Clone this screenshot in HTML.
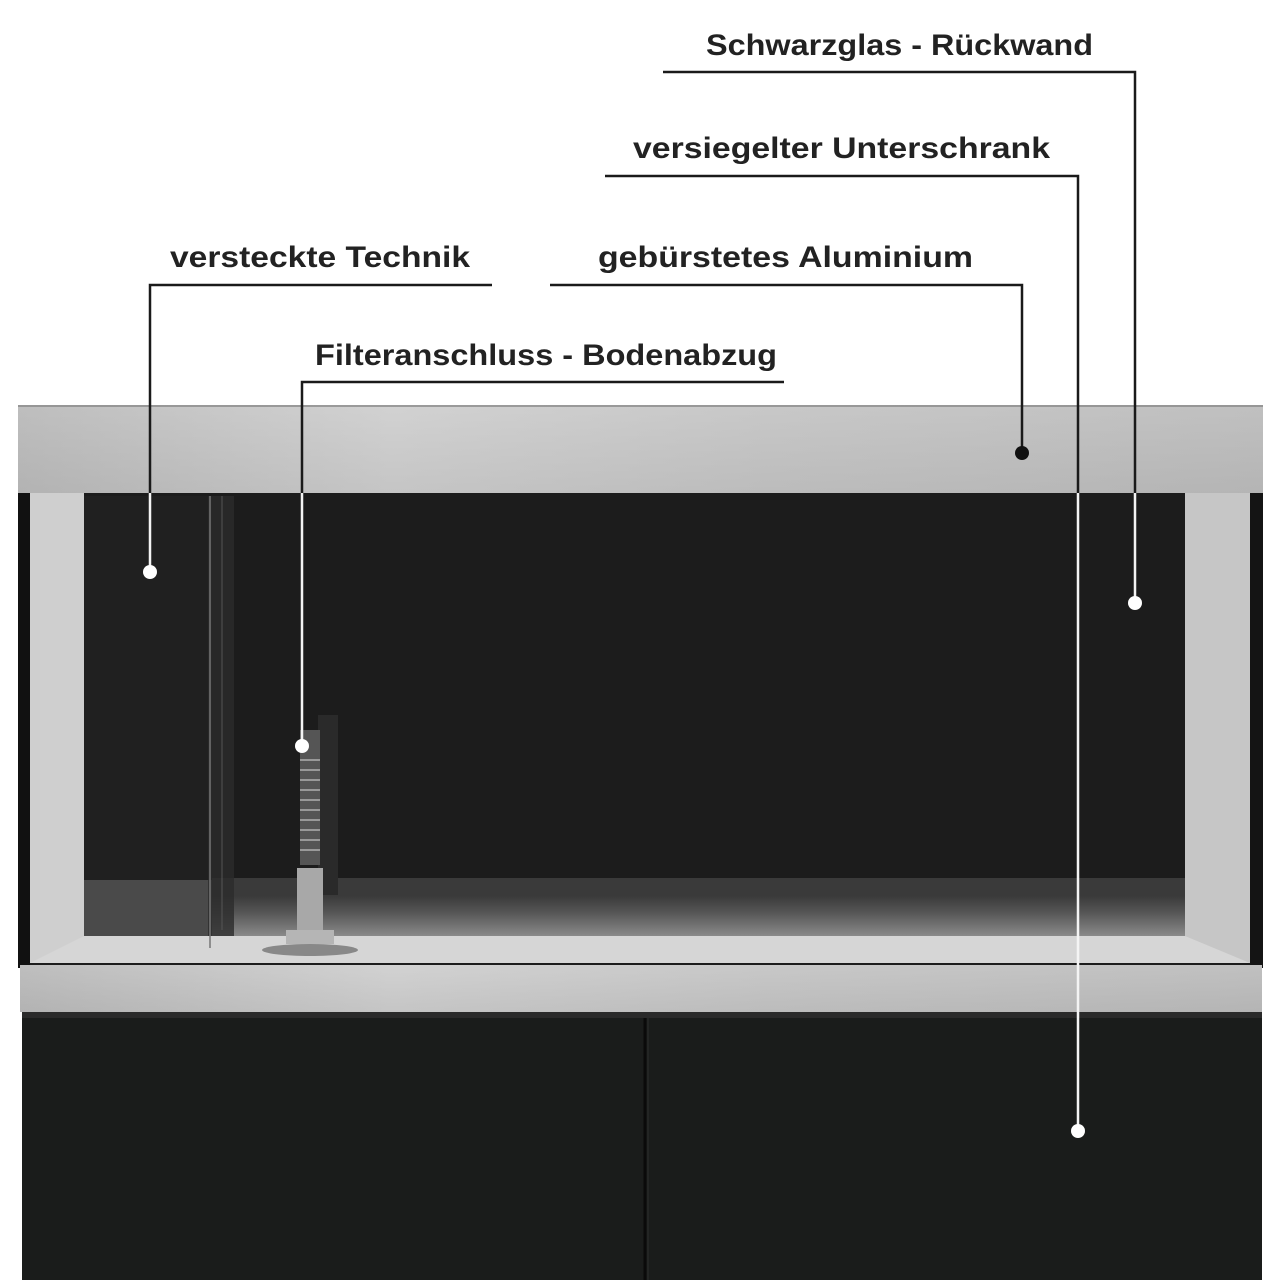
<!DOCTYPE html>
<html><head><meta charset="utf-8"><style>
html,body{margin:0;padding:0;background:#fff;}
body{width:1280px;height:1280px;position:relative;overflow:hidden;}
</style></head><body>
<svg width="1280" height="1280" viewBox="0 0 1280 1280" xmlns="http://www.w3.org/2000/svg" style="position:absolute;left:0;top:0">
<defs>
<linearGradient id="frame" x1="0" y1="0" x2="1" y2="0">
<stop offset="0" stop-color="#c2c2c2"/><stop offset="0.3" stop-color="#d6d6d6"/><stop offset="0.6" stop-color="#cccccc"/><stop offset="1" stop-color="#c4c4c4"/>
</linearGradient>
<linearGradient id="frameV" x1="0" y1="0" x2="0" y2="1">
<stop offset="0" stop-color="#000" stop-opacity="0.02"/><stop offset="1" stop-color="#000" stop-opacity="0.08"/>
</linearGradient>
<linearGradient id="floor" x1="0" y1="0" x2="0" y2="1">
<stop offset="0" stop-color="#3a3a3a"/><stop offset="0.4" stop-color="#555"/><stop offset="1" stop-color="#8a8a8a"/>
</linearGradient>
</defs>
<rect x="18" y="493" width="1245" height="475" fill="#1c1c1c"/>
<rect x="18" y="493" width="12" height="475" fill="#111"/>
<rect x="30" y="493" width="54" height="470" fill="#cfcfcf"/>
<rect x="1185" y="493" width="65" height="470" fill="#c6c6c6"/>
<rect x="1250" y="493" width="13" height="475" fill="#141414"/>
<rect x="84" y="878" width="1101" height="18" fill="#3a3a3a"/>
<rect x="84" y="896" width="1101" height="40" fill="url(#floor)"/>
<polygon points="84,936 1185,936 1250,963 30,963" fill="#d6d6d6"/>
<rect x="84" y="496" width="128" height="440" fill="#202020"/>
<rect x="84" y="880" width="128" height="56" fill="#4a4a4a"/>
<rect x="208" y="496" width="26" height="440" fill="#2c2c2c" opacity="0.8"/>
<line x1="210" y1="496" x2="210" y2="948" stroke="#777" stroke-width="1.5"/>
<line x1="222" y1="496" x2="222" y2="930" stroke="#555" stroke-width="1"/>
<rect x="318" y="715" width="20" height="180" fill="#2a2a2a"/>
<rect x="300" y="730" width="20" height="135" fill="#555"/>
<g stroke="#999" stroke-width="2">
<line x1="300" y1="760" x2="320" y2="760"/><line x1="300" y1="770" x2="320" y2="770"/><line x1="300" y1="780" x2="320" y2="780"/><line x1="300" y1="790" x2="320" y2="790"/><line x1="300" y1="800" x2="320" y2="800"/><line x1="300" y1="810" x2="320" y2="810"/><line x1="300" y1="820" x2="320" y2="820"/><line x1="300" y1="830" x2="320" y2="830"/><line x1="300" y1="840" x2="320" y2="840"/><line x1="300" y1="850" x2="320" y2="850"/>
</g>
<rect x="297" y="868" width="26" height="65" fill="#a8a8a8"/>
<rect x="286" y="930" width="48" height="14" fill="#b5b5b5"/>
<ellipse cx="310" cy="950" rx="48" ry="6" fill="#888"/>
<rect x="18" y="405" width="1245" height="88" fill="url(#frame)"/>
<rect x="18" y="405" width="1245" height="88" fill="url(#frameV)"/>
<line x1="18" y1="406" x2="1263" y2="406" stroke="#888" stroke-width="1.5"/>
<rect x="20" y="965" width="1242" height="47" fill="url(#frame)"/>
<rect x="20" y="965" width="1242" height="47" fill="url(#frameV)"/>
<rect x="22" y="1012" width="1240" height="268" fill="#1a1c1b"/>
<rect x="22" y="1012" width="1240" height="6" fill="#2a2a2a"/>
<line x1="645" y1="1018" x2="645" y2="1280" stroke="#0a0a0a" stroke-width="3"/>
<line x1="648" y1="1018" x2="648" y2="1280" stroke="#2c2e2d" stroke-width="1"/>
<g fill="none" stroke="#1a1a1a" stroke-width="2.5">
<polyline points="663,72 1135,72 1135,493"/>
<polyline points="605,176 1078,176 1078,493"/>
<polyline points="550,285 1022,285 1022,453"/>
<polyline points="492,285 150,285 150,493"/>
<polyline points="784,382 302,382 302,493"/>
</g>
<g fill="none" stroke="#f4f4f4" stroke-width="2.5">
<line x1="1135" y1="493" x2="1135" y2="603"/>
<line x1="1078" y1="493" x2="1078" y2="1131"/>
<line x1="150" y1="493" x2="150" y2="572"/>
<line x1="302" y1="493" x2="302" y2="746"/>
</g>
<circle cx="1135" cy="603" r="7" fill="#fff"/>
<circle cx="1078" cy="1131" r="7" fill="#fff"/>
<circle cx="1022" cy="453" r="7" fill="#111"/>
<circle cx="150" cy="572" r="7" fill="#fff"/>
<circle cx="302" cy="746" r="7" fill="#fff"/>
<g font-family="Liberation Sans, sans-serif" font-weight="bold" font-size="30" fill="#222">
<text x="706" y="55" textLength="387" lengthAdjust="spacingAndGlyphs">Schwarzglas - Rückwand</text>
<text x="633" y="158" textLength="417" lengthAdjust="spacingAndGlyphs">versiegelter Unterschrank</text>
<text x="170" y="267" textLength="300" lengthAdjust="spacingAndGlyphs">versteckte Technik</text>
<text x="598" y="267" textLength="375" lengthAdjust="spacingAndGlyphs">gebürstetes Aluminium</text>
<text x="315" y="365" textLength="462" lengthAdjust="spacingAndGlyphs">Filteranschluss - Bodenabzug</text>
</g>
</svg>
</body></html>
